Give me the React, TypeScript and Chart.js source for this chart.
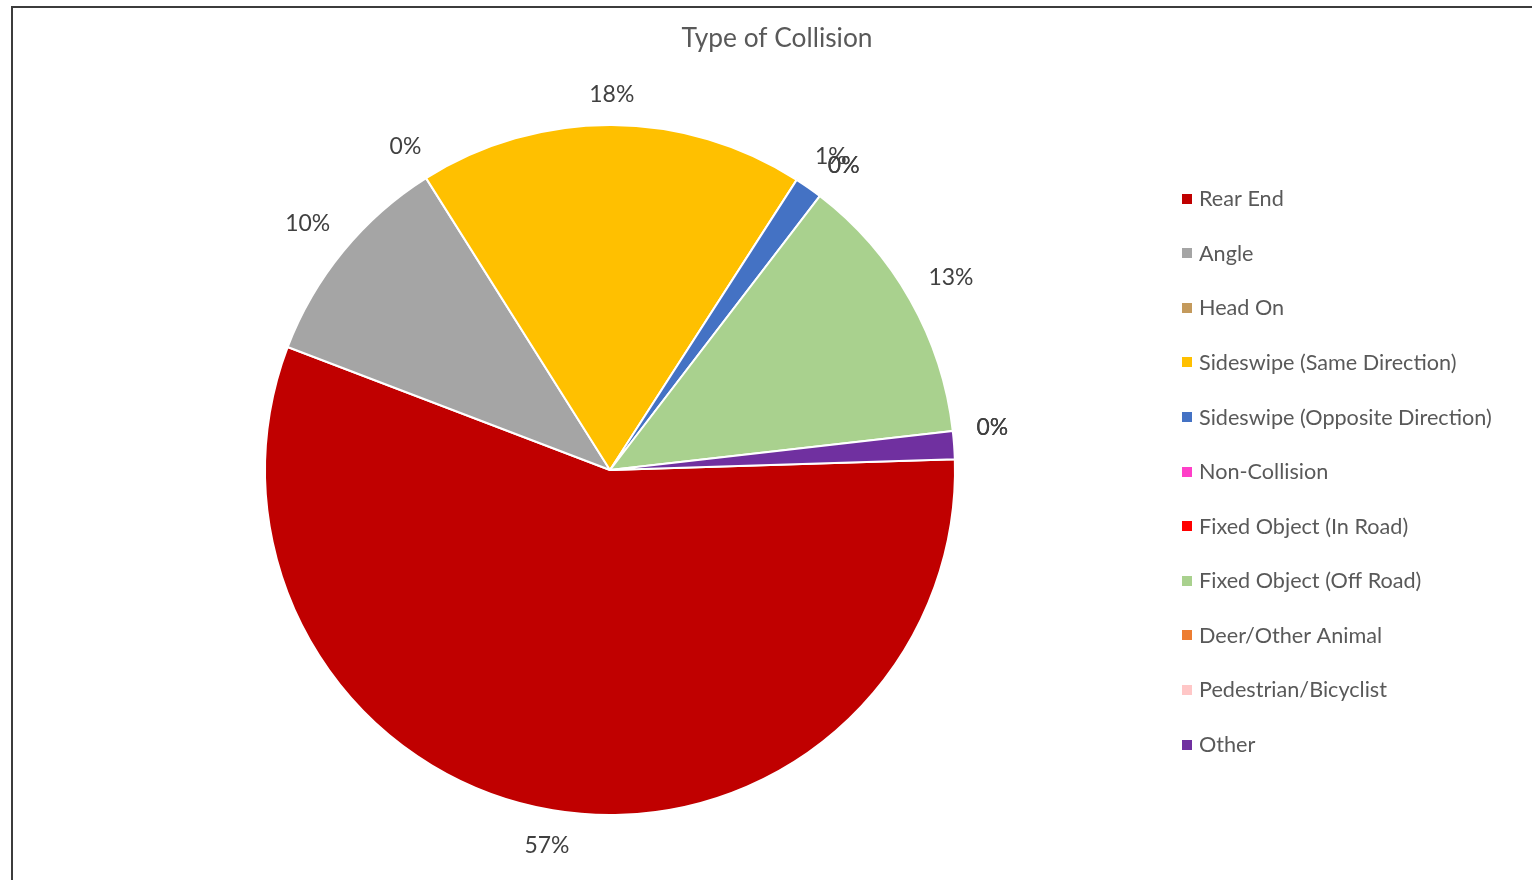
import React, { useEffect, useRef } from "react";
import { Chart, registerables } from "chart.js";

Chart.register(...registerables);

const chartTitle = "Type of Collision";
const categories = [
  "Rear End",
  "Angle",
  "Head On",
  "Sideswipe (Same Direction)",
  "Sideswipe (Opposite Direction)",
  "Non-Collision",
  "Fixed Object (In Road)",
  "Fixed Object (Off Road)",
  "Deer/Other Animal",
  "Pedestrian/Bicyclist",
  "Other",
];
const shares = [56.3, 10.25, 0, 18.05, 1.3, 0, 0, 12.8, 0, 0, 1.3];
const percentLabels = ["57%", "10%", "0%", "18%", "1%", "0%", "0%", "13%", "0%", "0%", ""];
const sliceColors = [
  "#C00000",
  "#A5A5A5",
  "#C49A5C",
  "#FFC000",
  "#4472C4",
  "#FF3FC8",
  "#FF0000",
  "#A9D18E",
  "#ED7D31",
  "#FFC7C7",
  "#7030A0",
];

const FONT = "Lato, 'Open Sans', sans-serif";

function fitSize(ctx: CanvasRenderingContext2D, text: string, target: number) {
  ctx.font = `100px ${FONT}`;
  const w = ctx.measureText(text).width;
  return (target / w) * 100;
}

const overlay = {
  id: "overlay",
  beforeDraw(chart: any) {
    const ctx: CanvasRenderingContext2D = chart.ctx;
    ctx.save();
    ctx.fillStyle = "#ffffff";
    ctx.fillRect(0, 0, chart.width, chart.height);
    // chart frame
    ctx.fillStyle = "#3c3c3c";
    ctx.fillRect(11, 6, chart.width - 11, 2);
    ctx.fillRect(11, 6, 2, chart.height - 6);
    ctx.restore();
  },
  afterDraw(chart: any) {
    const ctx: CanvasRenderingContext2D = chart.ctx;
    ctx.save();

    // title
    const tSize = fitSize(ctx, chartTitle, 191);
    ctx.font = `${tSize}px ${FONT}`;
    ctx.fillStyle = "#595959";
    ctx.textAlign = "center";
    ctx.textBaseline = "alphabetic";
    ctx.fillText(chartTitle, 777, 47);

    // data labels
    const lSize = fitSize(ctx, "57%", 45);
    ctx.font = `${lSize}px ${FONT}`;
    ctx.fillStyle = "#404040";
    const meta = chart.getDatasetMeta(0);
    const GAP = 23;
    meta.data.forEach((arc: any, i: number) => {
      const text = percentLabels[i];
      if (!text) return;
      const p = arc.getProps(["x", "y", "startAngle", "endAngle", "outerRadius"], true);
      const mid = (p.startAngle + p.endAngle) / 2;
      const m = ctx.measureText(text);
      const w = m.width;
      const h = m.actualBoundingBoxAscent;
      const d = p.outerRadius + GAP + Math.abs(Math.cos(mid)) * w / 2 + Math.abs(Math.sin(mid)) * h / 2;
      ctx.fillText(text, p.x + Math.cos(mid) * d, p.y + Math.sin(mid) * d + h / 2);
    });

    // legend
    const gSize = fitSize(ctx, "Sideswipe (Opposite Direction)", 293);
    ctx.font = `${gSize}px ${FONT}`;
    ctx.textAlign = "left";
    const capH = ctx.measureText("H").actualBoundingBoxAscent;
    categories.forEach((name, i) => {
      const cy = 198.7 + 54.58 * i;
      ctx.fillStyle = sliceColors[i];
      ctx.fillRect(1182, Math.round(cy - 5), 10, 10);
      ctx.fillStyle = "#595959";
      ctx.fillText(name, 1199, cy + capH / 2);
    });

    ctx.restore();
  },
};

export default function App() {
  const ref = useRef<HTMLCanvasElement | null>(null);

  useEffect(() => {
    if (!ref.current) return;
    const chart = new Chart(ref.current, {
      type: "pie",
      data: {
        labels: categories,
        datasets: [
          {
            data: shares,
            backgroundColor: sliceColors,
            borderColor: "#ffffff",
            borderWidth: 2,
          },
        ],
      },
      options: {
        animation: false,
        responsive: false,
        devicePixelRatio: 1,
        rotation: 88.2,
        events: [],
        layout: { padding: { left: 264, right: 576, top: 124, bottom: 64 } },
        plugins: {
          legend: { display: false },
          title: { display: false },
          tooltip: { enabled: false },
        },
      },
      plugins: [overlay],
    });
    return () => chart.destroy();
  }, []);

  return (
    <div style={{ position: "fixed", left: 0, top: 0, width: 1532, height: 880, background: "#fff" }}>
      <canvas ref={ref} width={1532} height={880} style={{ display: "block" }} />
    </div>
  );
}
